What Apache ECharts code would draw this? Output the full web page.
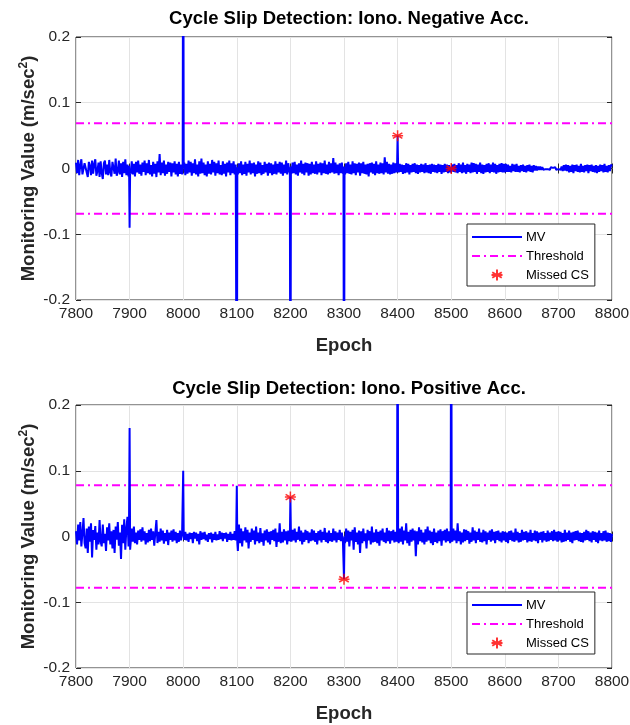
<!DOCTYPE html>
<html>
<head>
<meta charset="utf-8">
<script src="https://cdn.jsdelivr.net/npm/echarts@6/dist/echarts.min.js"></script>
<style>
  html, body { margin: 0; padding: 0; background: #fff; }
  #chart { width: 630px; height: 725px; }
</style>
</head>
<body>
<div id="chart"></div>
<script>
// x ticks (Epoch)
const epochTicks = [7800, 7900, 8000, 8100, 8200, 8300, 8400, 8500, 8600, 8700, 8800];
const noiseStep = 2; // MV noise read every 2 epochs, in 1e-3 m/sec^2, one row per 100 epochs

// --- top plot: Iono. Negative Acc.
const noiseTop = [
  9, -7, 13, -10, 5, 14, -9, -12, 8, 11, -6, -13, 10, 4, -10, 12, -8, 7, 14, -11, -4, 9, -13, 11, -7, -16, 8, 12, -9, 6, -10, 13, -6, -12, 10, 7, -8, 15, -11, -5, 12, -9, 8, -13, 10, -7, 14, -10, 6, -12,
  0, -8, 11, -9, 7, -12, 10, -6, 12, -8, 6, -11, 9, -5, 12, -10, 8, -7, 13, -9, 5, -12, 10, -8, 7, -13, 11, -6, 22, -10, 9, -7, 12, -11, 6, -8, 10, -5, 9, -12, 8, -6, 11, -9, 7, -12, 10, -8, 6, -9,
  0, 9, -10, 7, -8, 12, -6, 10, -11, 8, -7, 14, -9, 6, -12, 11, -8, 15, -7, 9, -10, 6, -12, 11, -8, 7, -9, 13, -6, 10, -11, 8, -7, 12, -9, 5, -10, 11, -8, 7, -12, 9, -6, 12, -10, 8, -7, 11, -9, 6,
  0, -9, 8, -7, 11, -10, 6, -8, 10, -11, 7, -6, 12, -9, 8, -7, 9, -12, 6, -8, 11, -7, 9, -10, 5, -8, 10, -6, 7, -11, 9, -7, 8, -10, 6, -8, 11, -9, 7, -6, 10, -8, 9, -11, 6, -7, 12, -9, 8, -6,
  0, -8, 9, -7, 10, -9, 6, -11, 8, -6, 12, -8, 7, -10, 9, -6, 8, -11, 7, -9, 10, -7, 6, -8, 11, -9, 7, -6, 9, -10, 8, -7, 12, -8, 6, -9, 10, -7, 8, -6, 16, -8, 9, -7, 6, -10, 8, -7, 9, -8,
  0, -9, 8, -7, 10, -8, 6, -9, 11, -7, 8, -10, 7, -6, 9, -11, 8, -7, 10, -8, 6, -9, 7, -12, 8, -6, 9, -8, 7, -10, 11, -7, 6, -8, 9, -7, 8, -9, 17, -6, 10, -8, 7, -9, 6, -8, 9, -7, 8, -6,
  0, -6, 7, -5, 6, -8, 5, -7, 8, -6, 7, -9, 5, -6, 7, -5, 8, -7, 6, -8, 5, -6, 7, -5, 6, -7, 8, -6, 5, -7, 6, -8, 7, -5, 6, -6, 5, -7, 7, -5, 6, -8, 5, -6, 7, -5, 6, -7, 5, -6,
  0, 6, -5, 7, -6, 5, -7, 8, -5, 6, -7, 9, -6, 5, -8, 7, -5, 6, -7, 9, -6, 8, -5, 7, -8, 6, -5, 9, -7, 6, -8, 5, -6, 7, -5, 8, -7, 6, -5, 9, -6, 7, -8, 5, -6, 7, -5, 8, -6, 7,
  -6, 7, -5, 6, -5, 4, -6, 7, -4, 6, -5, 7, -5, 4, -6, 5, -4, 6, -5, 4, -6, 5, -4, 6, -5, 4, -6, 5, -3, 4, -3, 3, -2, 3, -2, 2, -2, 1, -1, 2, -1, 1, -2, 2, -1, 1, -1, 2, -2, 1,
  -1, 2, -2, 3, -4, 5, -3, 6, -4, 5, -6, 4, -5, 6, -7, 5, -4, 6, -5, 4, -6, 7, -5, 4, -6, 5, -4, 6, -7, 5, -4, 6, -5, 4, -6, 5, -7, 4, -5, 6, -4, 5, -6, 7, -5, 4, -6, 5, -4, 6,
  3
];
const spikesTop = [
  [7899, 0.004], [7900, -0.09], [7901, -0.003],
  [7999, 0.002], [8000, 0.5], [8001, 0.003],
  [8099, 0.003], [8100, -0.5], [8101, 0.002],
  [8199, 0.002], [8200, -0.5], [8201, 0.003],
  [8299, 0.003], [8300, -0.5], [8301, 0.002],
  [8399, 0.002], [8400, 0.05], [8401, 0.001]
];
const thresholdTop = 0.069;
const missedTop = [[8400, 0.05], [8500, 0]];

// --- bottom plot: Iono. Positive Acc.
const noiseBottom = [
  8, -12, 18, -6, 22, -15, 5, 28, -10, -18, 12, -25, 15, -8, 20, -32, 10, -5, 16, -20, 6, -12, 25, -8, -15, 18, -10, 4, -22, 14, -6, 20, -12, 8, -18, 10, -25, 15, -5, 22, -14, 6, -34, 18, -10, 26, -20, 12, 30, -15,
  0, -18, 12, -8, 15, -10, 6, -12, 9, -5, 11, -8, 14, -6, 8, -12, 5, -9, 10, -7, 12, -5, 8, -14, 6, 25, -10, 7, -8, 12, -6, 9, -11, 5, -7, 10, -13, 6, -5, 9, -8, 11, -6, 7, -10, 5, -8, 9, -6, 7,
  0, -5, 7, -6, 4, -8, 6, -4, 5, -10, 7, -3, 6, -7, 4, -12, 8, -5, 6, -4, 7, -6, 3, -8, 5, -4, 6, -9, 4, -5, 7, -6, 3, -5, 8, -4, 6, -7, 5, -3, 6, -8, 4, -5, 7, -6, 4, -5, 8, -6,
  0, -22, 18, -10, 12, -15, 8, -6, 14, -9, 10, -18, 6, -8, 12, -5, 9, -12, 15, -7, 6, -10, 13, -8, 5, -14, 9, -6, 11, -9, 7, -12, 8, -5, 10, -7, 12, -16, 6, -8, 20, -10, 7, -9, 11, -6, 8, -12, 9, -7,
  0, -8, 10, -6, 12, -9, 7, -5, 15, -7, 9, -12, 6, -8, 10, -5, 8, -10, 6, -7, 11, -6, 9, -8, 5, -12, 8, -6, 10, -9, 7, -5, 13, -8, 6, -10, 9, -7, 5, -8, 12, -6, 8, -9, 6, -5, 10, -7, 6, -8,
  0, -10, 12, -8, 9, -15, 7, -6, 10, -20, 14, -8, 6, -12, 9, -25, 8, -10, 12, -7, 5, -18, 10, -6, 8, -12, 15, -9, 6, -8, 11, -10, 7, -14, 9, -6, 12, -8, 6, -10, 13, -7, 9, -11, 8, -6, 10, -9, 7, -8,
  0, -10, 12, -8, 15, -12, 9, -6, 20, -10, 7, -14, 10, -8, 12, -6, 9, -30, 8, -12, 14, -7, 10, -9, 6, -12, 11, -8, 15, -6, 9, -10, 7, -13, 12, -8, 6, -10, 9, -7, 11, -14, 8, -6, 10, -9, 12, -7, 8, -10,
  0, -8, 12, -6, 9, -10, 20, -7, 8, -12, 6, -9, 11, -7, 10, -5, 8, -11, 6, -8, 14, -6, 9, -10, 7, -5, 12, -8, 6, -9, 10, -7, 8, -12, 6, -5, 9, -8, 11, -6, 7, -10, 8, -5, 9, -7, 6, -9, 8, -6,
  7, -8, 6, -10, 8, -5, 9, -7, 6, -8, 12, -6, 7, -9, 5, -8, 10, -6, 7, -5, 8, -9, 6, -7, 10, -8, 5, -6, 9, -7, 8, -10, 6, -5, 7, -9, 8, -6, 5, -8, 9, -7, 6, -5, 8, -7, 10, -6, 7, -8,
  8, -6, 7, -9, 5, -8, 10, -7, 6, -5, 9, -8, 6, -10, 7, -6, 8, -5, 9, -7, 6, -8, 5, -9, 7, -6, 10, -5, 8, -7, 6, -9, 8, -5, 7, -8, 6, -10, 9, -6, 5, -7, 8, -6, 9, -8, 6, -7, 5, -8,
  4
];
const spikesBottom = [
  [7899, 0.03], [7900, 0.165], [7901, -0.02],
  [7999, 0.005], [8000, 0.1], [8001, 0],
  [8099, 0.01], [8100, 0.077], [8101, -0.01],
  [8199, 0], [8200, 0.06], [8201, 0],
  [8299, -0.01], [8300, -0.065], [8301, 0],
  [8399, 0.005], [8400, 0.5], [8401, 0],
  [8499, 0], [8500, 0.5], [8501, 0]
];
const thresholdBottom = 0.078;
const missedBottom = [[8200, 0.06], [8300, -0.065]];

const titles = ['Cycle Slip Detection: Iono. Negative Acc.', 'Cycle Slip Detection: Iono. Positive Acc.'];

const xMin = epochTicks[0];
const xMax = epochTicks[epochTicks.length - 1];
const textColor = '#262626';
const font = 'Liberation Sans, Arial, Helvetica, sans-serif';
const starPath = 'path://M0,-5L0,5M-4.33,-2.5L4.33,2.5M-4.33,2.5L4.33,-2.5M-5,0L5,0';

function buildMV(noise, spikes) {
  const spikeCenters = spikes.map(s => s[0]);
  const pts = [];
  noise.forEach((v, i) => {
    const e = xMin + i * noiseStep;
    if (spikeCenters.indexOf(e) < 0) pts.push([e, v / 1000]);
  });
  spikes.forEach(s => pts.push(s));
  pts.sort((a, b) => a[0] - b[0]);
  return pts;
}

const mvData = [buildMV(noiseTop, spikesTop), buildMV(noiseBottom, spikesBottom)];
const thresholds = [thresholdTop, thresholdBottom];
const missed = [missedTop, missedBottom];

const gridTops = [37, 405];
const titleTops = [4, 374];
const gridH = 263;

const grid = [];
const xAxis = [];
const yAxis = [];
const series = [];
const legend = [];
const title = [];

gridTops.forEach((top, g) => {
  grid.push({
    left: 76, width: 536, top: top, height: gridH, outerBoundsMode: 'none',
    show: true, borderColor: textColor, borderWidth: 1, backgroundColor: '#fff'
  });
  title.push({
    text: titles[g], left: 344, top: titleTops[g], textAlign: 'center',
    textStyle: { fontFamily: font, fontSize: 18.5, fontWeight: 'bold', color: '#000' }
  });
  // bottom x axis
  xAxis.push({
    type: 'value', gridIndex: g, min: xMin, max: xMax, interval: 100,
    name: 'Epoch', nameLocation: 'middle', nameGap: 36,
    nameTextStyle: { fontFamily: font, fontSize: 18.5, fontWeight: 'bold', color: textColor },
    axisLine: { show: false },
    axisTick: { show: true, inside: true, length: 5, lineStyle: { color: textColor } },
    axisLabel: { fontFamily: font, fontSize: 15.5, color: textColor, margin: 6, formatter: v => String(v) },
    splitLine: { show: true, lineStyle: { color: '#e3e3e3', width: 1 } }
  });
  // top x axis, ticks only
  xAxis.push({
    type: 'value', gridIndex: g, min: xMin, max: xMax, interval: 100, position: 'top',
    axisLine: { show: false },
    axisTick: { show: true, inside: true, length: 5, lineStyle: { color: textColor } },
    axisLabel: { show: false }, splitLine: { show: false }
  });
  yAxis.push({
    type: 'value', gridIndex: g, min: -0.2, max: 0.2, interval: 0.1,
    name: 'Monitoring Value (m/sec{sup|2})', nameLocation: 'middle', nameGap: 37, nameMoveOverlap: false,
    nameTextStyle: {
      fontFamily: font, fontSize: 18.5, fontWeight: 'bold', color: textColor,
      rich: { sup: { fontFamily: font, fontSize: 12, fontWeight: 'bold', color: textColor, verticalAlign: 'top', padding: [0, 0, 9, 0] } }
    },
    axisLine: { show: false },
    axisTick: { show: true, inside: true, length: 5, lineStyle: { color: textColor } },
    axisLabel: { fontFamily: font, fontSize: 15.5, color: textColor, margin: 6,
      formatter: v => String(Math.round(v * 10) / 10) },
    splitLine: { show: true, lineStyle: { color: '#e3e3e3', width: 1 } }
  });
  yAxis.push({
    type: 'value', gridIndex: g, min: -0.2, max: 0.2, interval: 0.1, position: 'right',
    axisLine: { show: false },
    axisTick: { show: true, inside: true, length: 5, lineStyle: { color: textColor } },
    axisLabel: { show: false }, splitLine: { show: false }
  });

  const xi = g * 2;
  const yi = g * 2;
  series.push({
    name: 'MV', type: 'line', xAxisIndex: xi, yAxisIndex: yi,
    data: mvData[g], symbol: 'none', animation: false, z: 3,
    lineStyle: { color: '#0000ff', width: 2 }, itemStyle: { color: '#0000ff' }
  });
  [1, -1].forEach(sign => {
    series.push({
      name: 'Threshold', type: 'line', xAxisIndex: xi, yAxisIndex: yi,
      data: [[xMin, sign * thresholds[g]], [xMax, sign * thresholds[g]]],
      symbol: 'none', animation: false, z: 2,
      lineStyle: { color: '#ff00ff', width: 2, type: [8, 4, 2, 4] }, itemStyle: { color: '#ff00ff' }
    });
  });
  series.push({
    name: 'Missed CS', type: 'scatter', xAxisIndex: xi, yAxisIndex: yi,
    data: missed[g], symbol: starPath, symbolSize: 11, symbolKeepAspect: true,
    animation: false, z: 5,
    itemStyle: { color: '#ff0000', borderColor: '#ff0000', borderWidth: 1.5 }
  });

  legend.push({
    data: [
      { name: 'MV', itemStyle: { opacity: 0 } },
      { name: 'Threshold', itemStyle: { opacity: 0 } },
      { name: 'Missed CS' }
    ],
    orient: 'vertical', left: 467, top: top + 187,
    itemWidth: 50, itemHeight: 11, itemGap: 5,
    padding: [6, 6, 4, 4],
    backgroundColor: '#fff', borderColor: textColor, borderWidth: 1, borderRadius: 0,
    textStyle: { fontFamily: font, fontSize: 13, lineHeight: 14, color: '#000', padding: [0, 0, 0, -1] },
    selectedMode: false
  });
});

const myChart = echarts.init(document.getElementById('chart'), null, { renderer: 'canvas' });
myChart.setOption({
  animation: false,
  backgroundColor: '#fff',
  title: title,
  grid: grid,
  xAxis: xAxis,
  yAxis: yAxis,
  legend: legend,
  series: series
});
</script>
</body>
</html>
